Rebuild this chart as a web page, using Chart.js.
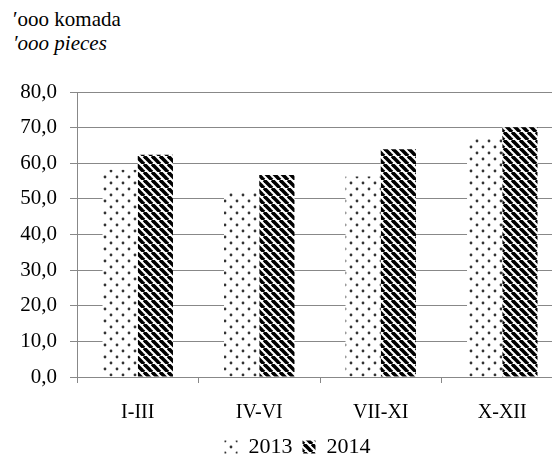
<!DOCTYPE html>
<html>
<head>
<meta charset="utf-8">
<script src="https://cdn.jsdelivr.net/npm/chart.js@4/dist/chart.umd.min.js"></script>
<style>
  html, body { margin: 0; padding: 0; background: #fff; overflow: hidden; }
  body { width: 552px; height: 463px; position: relative; }
  .unit { position: absolute; left: 13px; font-family: "Liberation Serif", serif; font-size: 21px; line-height: 21px; color: #000; white-space: nowrap; }
  #wrap { position: absolute; left: 0; top: 60px; width: 594px; height: 408px; }
</style>
</head>
<body>
<div class="unit" style="top:9px">′ooo komada</div>
<div class="unit" style="top:33px;font-style:italic">′ooo pieces</div>
<div id="wrap"><canvas id="chart"></canvas></div>
<script>
const quarters = ["I-III", "IV-VI", "VII-XI", "X-XII"];
const values2013 = [58.2, 52.1, 56.3, 67.3];
const values2014 = [62.4, 56.7, 63.9, 70.1];
const yTicks = { min: 0, max: 80, step: 10 };

const serif = "'Liberation Serif', serif";

function dots() {
  const c = document.createElement("canvas");
  c.width = 12; c.height = 12;
  const ctx = c.getContext("2d");
  ctx.fillStyle = "#fff";
  ctx.fillRect(0, 0, 12, 12);
  ctx.fillStyle = "#333";
  ctx.beginPath(); ctx.arc(3, 3, 1.4, 0, Math.PI * 2); ctx.fill();
  ctx.beginPath(); ctx.arc(9, 9, 1.4, 0, Math.PI * 2); ctx.fill();
  return ctx.createPattern(c, "repeat");
}

function stripes() {
  const c = document.createElement("canvas");
  c.width = 8; c.height = 8;
  const ctx = c.getContext("2d");
  ctx.fillStyle = "#fff";
  ctx.fillRect(0, 0, 8, 8);
  ctx.strokeStyle = "#000";
  ctx.lineWidth = 3.6;
  for (const off of [-8, 0, 8]) {
    ctx.beginPath();
    ctx.moveTo(off, 0);
    ctx.lineTo(off + 8, 8);
    ctx.stroke();
  }
  return ctx.createPattern(c, "repeat");
}

// legend in the original sits a bit right of the plot centre
const shiftLegend = {
  id: "shiftLegend",
  afterLayout(chart) {
    chart.legend.left += 16;
    chart.legend.right += 16;
  }
};

Chart.defaults.font.family = serif;
Chart.defaults.color = "#000";

new Chart(document.getElementById("chart"), {
  type: "bar",
  data: {
    labels: quarters,
    datasets: [
      { label: "2013", data: values2013, backgroundColor: dots(), borderWidth: 0 },
      { label: "2014", data: values2014, backgroundColor: stripes(), borderWidth: 0 }
    ]
  },
  options: {
    responsive: true,
    maintainAspectRatio: false,
    animation: false,
    categoryPercentage: 0.58,
    barPercentage: 1,
    layout: { padding: { top: 32, right: 31, left: 0, bottom: 0 } },
    plugins: {
      tooltip: { enabled: false },
      legend: {
        position: "bottom",
        labels: { boxWidth: 13, boxHeight: 13, padding: 10, font: { family: serif, size: 22 } }
      }
    },
    scales: {
      x: {
        afterFit: s => { s.height = 49; },
        grid: { drawOnChartArea: false, color: "#888", tickLength: 6 },
        border: { color: "#888", width: 1 },
        ticks: { font: { family: serif, size: 20 }, padding: 18 }
      },
      y: {
        min: yTicks.min,
        max: yTicks.max,
        afterFit: s => { s.width = 77; },
        grid: { color: "#888", borderDash: [5, 3], tickBorderDash: [], tickLength: 7 },
        border: { color: "#888", width: 1 },
        ticks: {
          stepSize: yTicks.step,
          padding: 13,
          font: { family: serif, size: 21 },
          callback: v => v.toFixed(1).replace(".", ",")
        }
      }
    }
  },
  plugins: [shiftLegend]
});
</script>
</body>
</html>
